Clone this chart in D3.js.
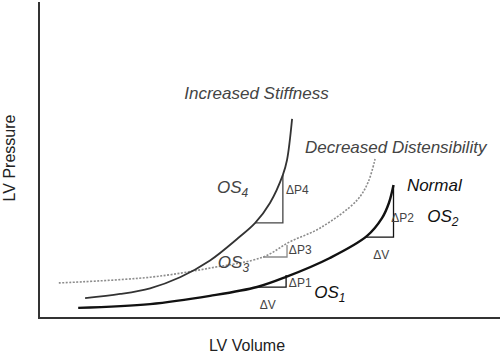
<!DOCTYPE html>
<html>
<head>
<meta charset="utf-8">
<script src="https://cdn.jsdelivr.net/npm/d3@7"></script>
<style>
  body { margin: 0; background: #fff; }
  svg { display: block; font-family: "Liberation Sans", Arial, Helvetica, sans-serif; }
</style>
</head>
<body>
<svg id="chart"></svg>
<script>
(() => {

    const WIDTH = 500;
    const HEIGHT = 354;

    // pressure-volume curves, [volume, pressure] in arbitrary units (0..100)
    const normalCurve = [[8.5, 3.2], [24.1, 4.4], [37.1, 7.0], [47.3, 9.8], [53.6, 13.0],
        [63.1, 19.0], [71.1, 25.9], [74.4, 31.6], [75.9, 36.4], [76.9, 42.1]];
    const stiffnessCurve = [[10.0, 6.3], [17.6, 7.6], [24.1, 9.4], [30.6, 12.9], [37.1, 18.2],
        [43.2, 25.3], [46.9, 30.1], [50.1, 36.4], [52.9, 45.3], [53.8, 50.0], [54.9, 63.0]];
    const distensibilityCurve = [[4.3, 11.1], [24.1, 12.9], [37.1, 15.8], [48.6, 19.3],
        [54.4, 24.1], [61.0, 28.5], [69.0, 37.3], [71.4, 43.0], [72.9, 50.3]];

    // dV / dP triangles: [v0, v1, p0, p1]
    const triangleBounds = [[47.3, 53.6, 9.8, 13.6], [70.8, 76.9, 25.6, 42.1],
        [48.6, 53.8, 19.3, 23.1], [46.9, 52.9, 30.1, 45.3]];
    const triangleColors = ["#111", "#111", "#8a8a8a", "#444"];

    const svg = d3.select("#chart")
        .attr("width", WIDTH)
        .attr("height", HEIGHT);

    const x = d3.scaleLinear().domain([0, 100]).range([39, 500]);
    const y = d3.scaleLinear().domain([0, 100]).range([318, 2]);

    const line = d3.line()
        .x(d => x(d[0]))
        .y(d => y(d[1]))
        .curve(d3.curveCatmullRom.alpha(0.5));

    // axes (plain lines, no ticks)
    svg.append("line")
        .attr("x1", x(0)).attr("x2", x(0))
        .attr("y1", y(100)).attr("y2", y(0))
        .attr("stroke", "#333").attr("stroke-width", 2);
    svg.append("line")
        .attr("x1", x(0) - 1).attr("x2", x(100))
        .attr("y1", y(0)).attr("y2", y(0))
        .attr("stroke", "#333").attr("stroke-width", 2);

    // triangles
    triangleBounds.forEach((b, i) => {
        svg.append("path")
            .attr("class", "triangle")
            .attr("d", `M${x(b[0])},${y(b[2])}H${x(b[1])}V${y(b[3])}`)
            .attr("fill", "none")
            .attr("stroke", triangleColors[i])
            .attr("stroke-width", 1.3);
    });

    svg.append("path")
        .datum(distensibilityCurve)
        .attr("d", line)
        .attr("fill", "none")
        .attr("stroke", "#8c8c8c")
        .attr("stroke-width", 1.6)
        .attr("stroke-dasharray", "2,1.5");

    svg.append("path")
        .datum(stiffnessCurve)
        .attr("d", line)
        .attr("fill", "none")
        .attr("stroke", "#333")
        .attr("stroke-width", 1.8);

    svg.append("path")
        .datum(normalCurve)
        .attr("d", line)
        .attr("fill", "none")
        .attr("stroke", "#111")
        .attr("stroke-width", 2.4);

    // axis titles
    svg.append("text")
        .attr("x", 247).attr("y", 351)
        .attr("text-anchor", "middle")
        .attr("font-size", 16)
        .attr("fill", "#222")
        .text("LV Volume");
    svg.append("text")
        .attr("transform", "translate(15,158) rotate(-90)")
        .attr("text-anchor", "middle")
        .attr("font-size", 16)
        .attr("fill", "#222")
        .text("LV Pressure");

    // curve names
    const names = [
        {text: "Increased Stiffness", v: 31.5, p: 69.3, color: "#444"},
        {text: "Decreased Distensibility", v: 57.7, p: 52.2, color: "#444"},
        {text: "Normal", v: 79.8, p: 40.2, color: "#111"}
    ];
    names.forEach(n => {
        svg.append("text")
            .attr("x", x(n.v)).attr("y", y(n.p))
            .attr("font-size", 17)
            .attr("font-style", "italic")
            .attr("fill", n.color)
            .text(n.text);
    });

    // OS labels with subscripts
    const osLabels = [
        {sub: "1", v: 59.7, p: 6.3, color: "#111"},
        {sub: "2", v: 84.2, p: 30.4, color: "#111"},
        {sub: "3", v: 38.8, p: 15.8, color: "#444"},
        {sub: "4", v: 38.6, p: 39.6, color: "#444"}
    ];
    osLabels.forEach(o => {
        let t = svg.append("text")
            .attr("x", x(o.v)).attr("y", y(o.p))
            .attr("font-size", 17)
            .attr("font-style", "italic")
            .attr("fill", o.color);
        t.append("tspan").text("OS");
        t.append("tspan").attr("dy", 4).attr("font-size", 12).text(o.sub);
    });

    // delta labels
    const deltaLabels = [
        {text: "\u0394P1", v: 54.2, p: 9.8},
        {text: "\u0394P2", v: 76.4, p: 30.4},
        {text: "\u0394P3", v: 54.2, p: 20.3},
        {text: "\u0394P4", v: 53.6, p: 39.2},
        {text: "\u0394V", v: 72.5, p: 18.7},
        {text: "\u0394V", v: 47.9, p: 2.8}
    ];
    deltaLabels.forEach(d => {
        svg.append("text")
            .attr("x", x(d.v)).attr("y", y(d.p))
            .attr("font-size", 12)
            .attr("fill", "#444")
            .text(d.text);
    });

})();
</script>
</body>
</html>
